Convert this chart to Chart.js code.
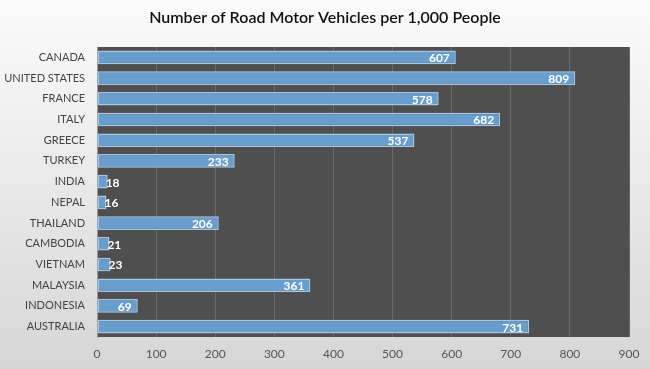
<!DOCTYPE html>
<html>
<head>
<meta charset="utf-8">
<script src="https://cdn.jsdelivr.net/npm/chart.js@4"></script>
<style>
  html, body { margin: 0; padding: 0; }
  #wrap { width: 650px; height: 369px; position: relative; }
</style>
</head>
<body>
<div id="wrap"><canvas id="chartdiv"></canvas></div>
<script>
var chartTitle = 'Number of Road Motor Vehicles per 1,000 People';
var countries = ['CANADA', 'UNITED STATES', 'FRANCE', 'ITALY', 'GREECE', 'TURKEY', 'INDIA',
  'NEPAL', 'THAILAND', 'CAMBODIA', 'VIETNAM', 'MALAYSIA', 'INDONESIA', 'AUSTRALIA'];
var vehicles = [607, 809, 578, 682, 537, 233, 18, 16, 206, 21, 23, 361, 69, 731];
var xTicks = [0, 100, 200, 300, 400, 500, 600, 700, 800, 900];

// light grey page background, dark plot area and the title centred on the page
var backdrop = {
  id: 'backdrop',
  beforeDraw: function (chart) {
    var c = chart.ctx;
    var g = c.createLinearGradient(0, 0, 0, chart.height);
    g.addColorStop(0, '#fbfbfb');
    g.addColorStop(1, '#d6d6d6');
    c.save();
    c.fillStyle = g;
    c.fillRect(0, 0, chart.width, chart.height);
    var a = chart.chartArea;
    c.fillStyle = '#4f4f4f';
    c.fillRect(a.left, a.top, a.right - a.left, a.bottom - a.top);
    c.font = '600 16px Lato';
    c.fillStyle = '#111111';
    c.textAlign = 'center';
    c.textBaseline = 'middle';
    c.fillText(chartTitle, chart.width / 2, 18);
    c.restore();
  }
};

// value labels at the end of each bar
var barLabels = {
  id: 'barLabels',
  afterDatasetsDraw: function (chart) {
    var c = chart.ctx;
    var meta = chart.getDatasetMeta(0);
    c.save();
    c.font = 'bold 12px Lato';
    c.fillStyle = '#ffffff';
    c.textBaseline = 'middle';
    meta.data.forEach(function (bar, i) {
      var txt = String(vehicles[i]);
      var w = c.measureText(txt).width;
      if (bar.x - bar.base > w + 10) {
        c.textAlign = 'right';
        c.fillText(txt, bar.x - 6, bar.y + 1);
      } else {
        c.textAlign = 'left';
        c.fillText(txt, bar.x - 2, bar.y + 1);
      }
    });
    c.restore();
  }
};

var data = {
  labels: countries,
  datasets: [{
    data: vehicles,
    backgroundColor: '#689ecd',
    borderColor: '#a6c6e4',
    borderWidth: 1.5,
    borderSkipped: false,
    barPercentage: 0.66,
    categoryPercentage: 1
  }]
};

var options = {
  indexAxis: 'y',
  responsive: true,
  maintainAspectRatio: false,
  animation: false,
  layout: { padding: { top: 47, right: 21, bottom: 0, left: 0 } },
  plugins: {
    legend: { display: false },
    tooltip: { enabled: false },
    title: { display: false }
  },
  scales: {
    x: {
      min: 0,
      max: 900,
      afterBuildTicks: function (axis) {
        axis.ticks = xTicks.map(function (v) { return { value: v }; });
      },
      afterFit: function (axis) { axis.height = 32; },
      grid: { color: '#6a6a6a', lineWidth: 1, drawTicks: false },
      border: { display: false },
      ticks: { color: '#555555', font: { family: 'Lato', size: 12 }, padding: 10 }
    },
    y: {
      afterFit: function (axis) { axis.width = 97; },
      grid: { display: false, drawTicks: false },
      border: { display: true, color: '#9a9a9a', width: 1 },
      ticks: { color: '#444444', font: { family: 'Lato', size: 11 }, padding: 12, autoSkip: false }
    }
  }
};

var ctx = document.querySelector('#chartdiv');
var myBarChart = new Chart(ctx, {
  type: 'bar',
  data: data,
  options: options,
  plugins: [backdrop, barLabels]
});
</script>
</body>
</html>
